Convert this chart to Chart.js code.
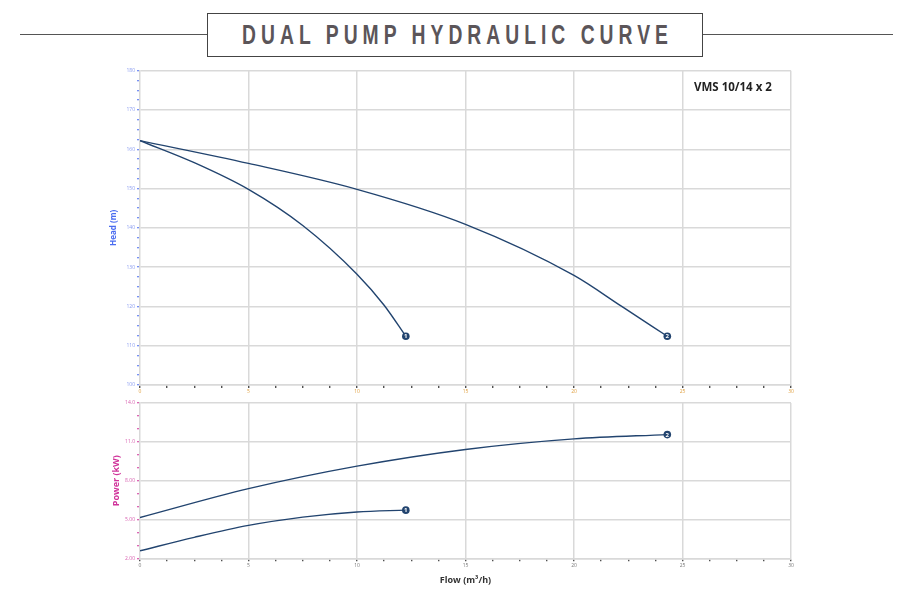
<!DOCTYPE html>
<html>
<head>
<meta charset="utf-8">
<script src="https://cdn.jsdelivr.net/npm/chart.js@4.4.1/dist/chart.umd.min.js"></script>
<style>
  html, body { margin: 0; padding: 0; background: #fff; }
  body { width: 913px; height: 591px; position: relative; overflow: hidden; font-family: 'Open Sans', sans-serif; }
  .rule { position: absolute; top: 34px; height: 1px; background: #555; }
  #title {
    position: absolute; left: 207px; top: 13px; width: 494px; height: 42px;
    border: 1.5px solid #444; white-space: nowrap;
  }
  #title span {
    position: absolute; left: 50%; top: 0; line-height: 42px;
    transform: translateX(-50%) scaleX(0.715); transform-origin: center;
    font-family: 'Liberation Sans', sans-serif; font-weight: bold;
    font-size: 27px; letter-spacing: 7px; color: #5b5559; padding-left: 7px;
  }
  #model { position: absolute; left: 694px; top: 79px; font-size: 11.5px; font-weight: bold; color: #222; }
  .box { position: absolute; left: 0; width: 913px; }
</style>
</head>
<body>
<div class="rule" style="left:20px;width:187px"></div>
<div class="rule" style="left:703px;width:190px"></div>
<div id="title"><span>DUAL PUMP HYDRAULIC CURVE</span></div>

<div class="box" style="top:60px;height:340px"><canvas id="headChart"></canvas></div>
<div class="box" style="top:395px;height:196px"><canvas id="powerChart"></canvas></div>
<div id="model">VMS 10/14 x 2</div>

<script>
/* values */
var flow1  = [0, 2.5, 5, 7.5, 10, 11.25, 12.25];
var head1  = [162.2, 156.6, 149.8, 140.6, 128.2, 120.3, 112.4];
var flow2  = [0, 5, 10, 15, 20, 22.2, 24.3];
var head2  = [162.2, 156.4, 149.8, 140.9, 127.9, 120, 112.4];

var pflow1 = [0, 2.5, 5, 7.5, 10, 12.25];
var power1 = [2.58, 3.62, 4.54, 5.18, 5.58, 5.72];
var pflow2 = [0, 5, 10, 15, 20, 24.3];
var power2 = [5.15, 7.38, 9.12, 10.41, 11.23, 11.56];

var flowTicks  = [0, 5, 10, 15, 20, 25, 30];
var headTicks  = [100, 110, 120, 130, 140, 150, 160, 170, 180];
var powerTicks = ['2.00', '5.00', '8.00', '11.0', '14.0'];
var curveLabels = ['1', '2'];

var lineCol = '#22446f';
var gridCol = '#d9d9d9';
var clear   = 'rgba(0,0,0,0)';

function pts(xs, ys) {
  return xs.map(function (x, i) { return { x: x, y: ys[i] }; });
}

function curve(xs, ys) {
  return {
    data: pts(xs, ys), showLine: true, borderColor: lineCol, borderWidth: 1.4,
    pointRadius: 0, cubicInterpolationMode: 'monotone', fill: false
  };
}

// numbered badge at the end of each curve
var endBadges = {
  id: 'endBadges',
  afterDatasetsDraw: function (chart) {
    var ctx = chart.ctx;
    chart.data.datasets.forEach(function (ds, i) {
      var meta = chart.getDatasetMeta(i);
      var last = meta.data[meta.data.length - 1];
      ctx.save();
      ctx.beginPath();
      ctx.arc(last.x, last.y, 3.8, 0, Math.PI * 2);
      ctx.fillStyle = lineCol;
      ctx.fill();
      ctx.fillStyle = '#fff';
      ctx.font = 'bold 6px "Open Sans"';
      ctx.textAlign = 'center';
      ctx.textBaseline = 'middle';
      ctx.fillText(curveLabels[i], last.x, last.y + 0.3);
      ctx.restore();
    });
  }
};

function xScale(labelCol, title, height) {
  var sc = {
    type: 'linear', min: 0, max: 30,
    border: { color: gridCol, width: 1.5 },
    grid: {
      color: function (c) { return c.tick && flowTicks.indexOf(c.tick.value) >= 0 && c.tick.value > 0 ? gridCol : clear; },
      lineWidth: 1.5, tickLength: 3, tickColor: '#333', tickWidth: 1.2
    },
    ticks: {
      stepSize: 1.25, autoSkip: false, maxRotation: 0, padding: 1,
      color: labelCol, font: { size: 5 },
      callback: function (v) { return flowTicks.indexOf(v) >= 0 ? String(v) : ''; }
    },
    afterFit: function (s) { s.height = height; }
  };
  if (title) {
    sc.title = { display: true, text: title, color: '#333', font: { size: 9, weight: 'bold', family: 'Open Sans' }, padding: { top: 0, bottom: 2 } };
  }
  return sc;
}

Chart.defaults.font.family = 'Open Sans';
Chart.defaults.animation = false;

new Chart(document.getElementById('headChart'), {
  type: 'scatter',
  data: { datasets: [curve(flow1, head1), curve(flow2, head2)] },
  plugins: [endBadges],
  options: {
    responsive: true, maintainAspectRatio: false,
    layout: { padding: { left: 109, right: 122, top: 10.7, bottom: 0 } },
    plugins: { legend: { display: false }, tooltip: { enabled: false } },
    scales: {
      x: xScale('#e0a040', null, 15),
      y: {
        type: 'linear', min: 100, max: 180,
        border: { color: gridCol, width: 1.5 },
        grid: {
          color: function (c) { return c.tick && headTicks.indexOf(c.tick.value) >= 0 ? gridCol : clear; },
          lineWidth: 1.5, tickLength: 3, tickColor: '#4a6cf0', tickWidth: 1.2
        },
        ticks: {
          stepSize: 2.5, autoSkip: false, padding: 2, color: '#8a9cf0', font: { size: 5 },
          callback: function (v) { return headTicks.indexOf(v) >= 0 ? String(v) : ''; }
        },
        title: { display: true, text: 'Head (m)', color: '#4a6cf0', font: { size: 8, weight: 'bold' }, padding: { top: 0, bottom: 0 } },
        afterFit: function (s) { s.width = 31; }
      }
    }
  }
});

new Chart(document.getElementById('powerChart'), {
  type: 'scatter',
  data: { datasets: [curve(pflow1, power1), curve(pflow2, power2)] },
  plugins: [endBadges],
  options: {
    responsive: true, maintainAspectRatio: false,
    layout: { padding: { left: 111, right: 122, top: 8, bottom: 3 } },
    plugins: { legend: { display: false }, tooltip: { enabled: false } },
    scales: {
      x: xScale('#777', 'Flow (m\u00b3/h)', 29.7),
      y: {
        type: 'linear', min: 2, max: 14,
        border: { color: gridCol, width: 1.5 },
        grid: {
          color: function (c) { return c.tick && (c.tick.value - 2) % 3 === 0 ? gridCol : clear; },
          lineWidth: 1.5, tickLength: 3, tickColor: '#d0339a', tickWidth: 1.2
        },
        ticks: {
          stepSize: 1, autoSkip: false, padding: 2, color: '#d860b0', font: { size: 5 },
          callback: function (v) { return (v - 2) % 3 === 0 ? powerTicks[(v - 2) / 3] : ''; }
        },
        title: { display: true, text: 'Power (kW)', color: '#d0339a', font: { size: 9, weight: 'bold' }, padding: { top: 0, bottom: 0 } },
        afterFit: function (s) { s.width = 29; }
      }
    }
  }
});
</script>
</body>
</html>
